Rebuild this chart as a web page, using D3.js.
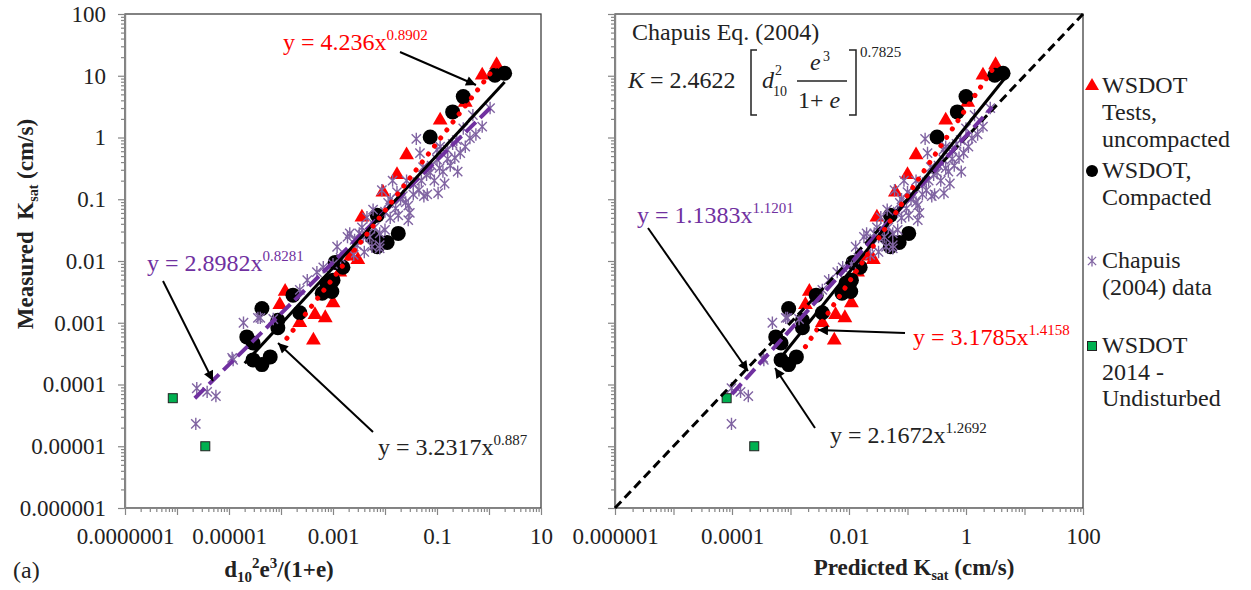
<!doctype html>
<html>
<head>
<meta charset="utf-8">
<script src="https://d3js.org/d3.v7.min.js"></script>
<style>
  body { margin: 0; background: #fff; }
  text { font-family: "Liberation Serif", "Times New Roman", serif; fill: #222; }
  .axis path, .axis line { stroke: #868686; stroke-width: 1.2; }
  .axis text { font-size: 23px; font-family: "Liberation Serif", serif; fill: #222; }
  .eq { font-size: 24px; }
  .sup { font-size: 15px; }
  .title { font-size: 23px; font-weight: bold; white-space: pre; }
  .leg { font-size: 24px; }
</style>
</head>
<body>
<svg width="1251" height="590"></svg>
<script>
// ---- data ----
// WSDOT tests, uncompacted
var uncompRatio = [1.4, 0.74, 0.35, 0.115, 0.026, 0.017, 9.1e-3, 3.6e-3, 3.0e-3, 1.35e-3, 1.2e-4, 2.3e-4, 4.5e-4, 7.1e-4, 1.0e-3, 4.2e-4, 2.2e-3, 9.5e-5];
var uncompPred  = [3.2, 1.95, 1.07, 0.45, 0.14, 0.10, 0.062, 0.030, 0.026, 0.014, 2.1e-3, 3.5e-3, 5.9e-3, 8.5e-3, 0.011, 5.6e-3, 0.021, 1.8e-3];
var uncompK     = [15, 10.2, 3.7, 1.9, 0.52, 0.25, 0.13, 0.051, 0.0105, 6.6e-3, 3.2e-3, 1.0e-3, 1.35e-3, 1.2e-3, 2.1e-3, 5.2e-4, 0.012, 1.95e-3];

// WSDOT, compacted
var compRatio = [2.0, 1.3, 0.32, 0.20, 0.074, 7.1e-3, 0.018, 0.011, 7.1e-3, 1.1e-3, 1.55e-3, 8.7e-4, 7.6e-4, 6.2e-4, 1.7e-4, 2.3e-4, 8.7e-5, 8.7e-5, 4.3e-5, 2.2e-5, 2.9e-5, 2.9e-5, 6.2e-5, 4.3e-5, 9.5e-4, 5.6e-3, 7.9e-3, 1.0e-3];
var compPred  = [4.3, 3.1, 1.0, 0.71, 0.32, 0.051, 0.105, 0.072, 0.051, 0.0117, 0.0155, 0.010, 8.9e-3, 7.6e-3, 2.75e-3, 3.5e-3, 1.6e-3, 1.6e-3, 9.3e-4, 5.6e-4, 6.9e-4, 6.9e-4, 1.26e-3, 9.3e-4, 0.0107, 0.043, 0.056, 0.011];
var compK     = [11, 10.2, 4.6, 2.6, 1.02, 0.055, 0.028, 0.020, 0.017, 9.5e-3, 7.9e-3, 4.1e-3, 4.4e-3, 3.0e-3, 2.8e-3, 1.45e-3, 1.1e-3, 8.3e-4, 1.7e-3, 5.9e-4, 4.7e-4, 2.5e-4, 2.8e-4, 2.1e-4, 3.2e-3, 0.0245, 0.020, 4.9e-3];

// Chapuis (2004) data
var chapRatio = [2.4e-6, 3.8e-6, 5.6e-6, 2.3e-6, 1.2e-5, 1.9e-5, 4.0e-5, 7.1e-5, 3.6e-5, 1.15e-5,
                 2.3e-4, 3.2e-4, 4.9e-4, 6.5e-4, 1.2e-3, 1.9e-3, 2.9e-3, 3.8e-3, 5.6e-3, 7.9e-3,
                 2.1e-3, 2.6e-3, 5.1e-3, 7.9e-3, 7.9e-3, 3.6e-3, 4.5e-3, 5.9e-3, 0.0115, 8.7e-3,
                 0.014, 0.017, 0.018, 0.028, 0.030, 0.026, 0.035, 0.054, 0.047, 0.065,
                 0.074, 0.10, 0.105, 0.115, 0.13, 0.16, 0.22, 0.24, 0.32, 0.040,
                 0.43, 0.49, 0.74, 1.05, 1.0e-3, 2.5e-3, 0.020, 0.050, 0.079, 0.16,
                 0.20, 0.0126, 0.010, 0.025,
                 1.4e-3, 3.2e-3, 6.3e-3, 0.010, 0.016, 0.022, 0.028, 0.035, 0.045, 0.056,
                 0.063, 0.089, 0.112, 0.14, 0.18, 0.28, 0.35, 0.56, 0.0126, 4.0e-3,
                 0.10, 0.25];
var chapPred  = [9.8e-5, 1.4e-4, 1.9e-4, 9.8e-5, 3.5e-4, 4.9e-4, 8.9e-4, 1.4e-3, 8.3e-4, 3.4e-4,
                 3.5e-3, 4.5e-3, 6.3e-3, 7.8e-3, 0.013, 0.018, 0.025, 0.032, 0.043, 0.056,
                 0.020, 0.023, 0.040, 0.056, 0.056, 0.030, 0.035, 0.045, 0.074, 0.060,
                 0.087, 0.10, 0.105, 0.15, 0.16, 0.14, 0.18, 0.25, 0.22, 0.29,
                 0.32, 0.41, 0.42, 0.45, 0.50, 0.59, 0.76, 0.81, 1.0, 0.20,
                 1.26, 1.4, 1.95, 2.6, 0.011, 0.023, 0.115, 0.23, 0.34, 0.58,
                 0.69, 0.079, 0.068, 0.14,
                 0.0145, 0.027, 0.047, 0.068, 0.096, 0.126, 0.15, 0.18, 0.21, 0.26,
                 0.28, 0.37, 0.45, 0.53, 0.63, 0.91, 1.1, 1.58, 0.079, 0.032,
                 0.41, 0.83];
var chapK     = [8.7e-5, 7.6e-5, 6.5e-5, 2.3e-5, 2.5e-4, 1.0e-3, 1.2e-3, 1.15e-3, 1.2e-3, 2.7e-4,
                 3.4e-3, 4.9e-3, 6.6e-3, 7.9e-3, 0.017, 0.0245, 0.018, 0.0245, 0.017, 0.018,
                 0.028, 0.022, 0.0245, 0.028, 0.016, 0.035, 0.051, 0.068, 0.087, 0.14,
                 0.20, 0.13, 0.055, 0.046, 0.060, 0.20, 0.12, 0.33, 0.56, 0.12,
                 0.27, 0.44, 0.126, 0.71, 0.28, 0.63, 0.47, 0.91, 1.4, 0.95,
                 0.98, 2.3, 1.5, 3.0, 8.9e-3, 0.0126, 0.10, 0.20, 0.35, 0.45,
                 0.79, 0.050, 0.063, 0.089,
                 0.0112, 0.028, 0.035, 0.032, 0.071, 0.112, 0.079, 0.18, 0.14, 0.112,
                 0.25, 0.20, 0.32, 0.18, 0.35, 0.56, 0.71, 1.12, 0.10, 0.014,
                 0.63, 0.28];

// WSDOT 2014 - undisturbed
var undistRatio = [8.3e-7, 3.5e-6];
var undistPred  = [8.1e-5, 2.4e-4];
var undistK     = [6.0e-5, 1.0e-5];

// trend lines (end points)
var fitLeftUncomp  = [[1.3e-4, 5.6e-4], [1.5, 16]];
var fitLeftComp    = [[2.0e-5, 2.2e-4], [2.0, 7.9]];
var fitLeftChap    = [[2.2e-6, 6.0e-5], [1.05, 3.0]];
var fitRightUncomp = [[1.8e-3, 4.1e-4], [3.2, 15]];
var fitRightComp   = [[7.4e-4, 3.0e-4], [4.6, 9.1]];
var fitRightChap   = [[1.0e-4, 7.0e-5], [2.8, 3.1]];
var oneToOne       = [[1e-6, 1e-6], [100, 100]];

// ---- chart ----
var svg = d3.select("svg");
var red = "#ff0000", purple = "#7030a0", star = "#8064a2", green = "#00b050";

var y = d3.scaleLog().domain([1e-6, 100]).range([508, 14]);
var xL = d3.scaleLog().domain([1e-7, 10]).range([125, 541]);
var xR = d3.scaleLog().domain([1e-6, 100]).range([615, 1083]);

svg.append("defs").append("marker")
   .attr("id", "arr").attr("viewBox", "0 0 10 10")
   .attr("refX", 10).attr("refY", 5)
   .attr("markerWidth", 13).attr("markerHeight", 10)
   .attr("markerUnits", "userSpaceOnUse").attr("orient", "auto")
   .append("path").attr("d", "M0,0L10,5L0,10z").attr("fill", "#000");

function decades(lo, hi) {
    var a = [];
    for (var e = lo; e <= hi; e++) a.push(+("1e" + e));
    return a;
}
function minors(lo, hi) {
    var a = [];
    for (var e = lo; e < hi; e++)
        for (var m = 2; m <= 9; m++) a.push(+(m + "e" + e));
    return a;
}
function fmt(d) {
    var e = Math.round(Math.log10(d));
    return e >= 0 ? String(d) : d.toFixed(-e);
}

function starPath(s) {
    var k = s * 0.75;
    return "M0," + (-s) + "V" + s +
           "M" + (-k) + "," + (-k) + "L" + k + "," + k +
           "M" + (-k) + "," + k + "L" + k + "," + (-k);
}

function panel(x, xlo, xhi, showY, rX, fits) {
    var g = svg.append("g");
    var x0 = x.range()[0], x1 = x.range()[1];

    g.append("rect")
     .attr("x", x0).attr("y", 14)
     .attr("width", x1 - x0).attr("height", 494)
     .attr("fill", "none").attr("stroke", "#404040").attr("stroke-width", 1.3);

    // x axis
    g.append("g").attr("class", "axis").attr("transform", "translate(0,508)")
     .call(d3.axisBottom(x).tickValues(minors(xlo, xhi)).tickSize(4).tickSizeOuter(0).tickFormat(""));
    g.append("g").attr("class", "axis").attr("transform", "translate(0,508)")
     .call(d3.axisBottom(x).tickValues(decades(xlo, xhi)).tickSize(7).tickSizeOuter(0).tickPadding(13)
       .tickFormat(function(d) { return (Math.round(Math.log10(d)) - xlo) % 2 === 0 ? fmt(d) : ""; }));

    // y axis
    g.append("g").attr("class", "axis").attr("transform", "translate(" + x0 + ",0)")
     .call(d3.axisLeft(y).tickValues(minors(-6, 2)).tickSize(4).tickSizeOuter(0).tickFormat(""));
    g.append("g").attr("class", "axis").attr("transform", "translate(" + x0 + ",0)")
     .call(d3.axisLeft(y).tickValues(decades(-6, 2)).tickSize(7).tickSizeOuter(0).tickPadding(12)
       .tickFormat(showY ? fmt : ""));

    var uX = rX ? uncompPred : uncompRatio;
    var cX = rX ? compPred : compRatio;
    var hX = rX ? chapPred : chapRatio;
    var dX = rX ? undistPred : undistRatio;

    g.append("g").selectAll("path").data(uncompK).enter().append("path")
     .attr("d", d3.symbol().type(d3.symbolTriangle).size(95))
     .attr("transform", function(d, i) { return "translate(" + x(uX[i]) + "," + y(d) + ")"; })
     .attr("fill", red);

    g.append("g").selectAll("circle").data(compK).enter().append("circle")
     .attr("cx", function(d, i) { return x(cX[i]); })
     .attr("cy", function(d) { return y(d); })
     .attr("r", 7.5).attr("fill", "#000");

    g.append("g").selectAll("path").data(chapK).enter().append("path")
     .attr("d", starPath(6.2))
     .attr("transform", function(d, i) { return "translate(" + x(hX[i]) + "," + y(d) + ")"; })
     .attr("fill", "none").attr("stroke", star).attr("stroke-width", 1.4);

    g.append("g").selectAll("rect").data(undistK).enter().append("rect")
     .attr("x", function(d, i) { return x(dX[i]) - 4.5; })
     .attr("y", function(d) { return y(d) - 4.5; })
     .attr("width", 9).attr("height", 9)
     .attr("fill", green).attr("stroke", "#222").attr("stroke-width", 1);

    var line = d3.line().x(function(d) { return x(d[0]); }).y(function(d) { return y(d[1]); });

    if (fits.one) {
        g.append("path").attr("d", line(fits.one))
         .attr("stroke", "#000").attr("stroke-width", 3).attr("stroke-dasharray", "9,5").attr("fill", "none");
    }
    g.append("path").attr("d", line(fits.chap))
     .attr("stroke", purple).attr("stroke-width", 4).attr("stroke-dasharray", "14,6").attr("fill", "none");
    g.append("path").attr("d", line(fits.comp))
     .attr("stroke", "#000").attr("stroke-width", 3).attr("fill", "none");
    g.append("path").attr("d", line(fits.uncomp))
     .attr("stroke", red).attr("stroke-width", 5).attr("stroke-linecap", "round")
     .attr("stroke-dasharray", "0.1,10").attr("fill", "none");
}

panel(xL, -7, 1, true, false, { uncomp: fitLeftUncomp, comp: fitLeftComp, chap: fitLeftChap });
panel(xR, -6, 2, false, true, { uncomp: fitRightUncomp, comp: fitRightComp, chap: fitRightChap, one: oneToOne });

// equation labels
function eq(xp, yp, base, exp, color) {
    var t = svg.append("text").attr("class", "eq").attr("x", xp).attr("y", yp).style("fill", color);
    t.append("tspan").text(base);
    t.append("tspan").attr("class", "sup").attr("dy", -10).text(exp);
}
eq(283, 50, "y = 4.236x", "0.8902", red);
eq(147, 271, "y = 2.8982x", "0.8281", purple);
eq(378, 455, "y = 3.2317x", "0.887", "#222");
eq(637, 223, "y = 1.1383x", "1.1201", purple);
eq(913, 345, "y = 3.1785x", "1.4158", red);
eq(830, 443, "y = 2.1672x", "1.2692", "#222");

// arrows
var arrows = [
    [400, 52, 476, 85],
    [163, 281, 213, 381],
    [373, 432, 278, 343],
    [648, 228, 748, 371],
    [905, 333, 818, 330],
    [815, 428, 775, 368]
];
svg.append("g").selectAll("line").data(arrows).enter().append("line")
   .attr("x1", function(d) { return d[0]; }).attr("y1", function(d) { return d[1]; })
   .attr("x2", function(d) { return d[2]; }).attr("y2", function(d) { return d[3]; })
   .attr("stroke", "#000").attr("stroke-width", 2).attr("marker-end", "url(#arr)");

// Chapuis equation box
svg.append("text").attr("class", "eq").attr("x", 632).attr("y", 40).text("Chapuis Eq. (2004)");
var f = svg.append("g");
f.append("text").attr("class", "eq").attr("x", 628).attr("y", 88).style("font-style", "italic").text("K");
f.append("text").attr("class", "eq").attr("x", 650).attr("y", 88).text("= 2.4622");
f.append("path").attr("d", "M757,50H751V115H757M849,50H856V115H849")
 .attr("fill", "none").attr("stroke", "#222").attr("stroke-width", 1.5);
f.append("text").attr("class", "eq").attr("x", 762).attr("y", 88).style("font-style", "italic").text("d");
f.append("text").attr("x", 775).attr("y", 75).style("font-size", "14px").text("2");
f.append("text").attr("x", 773).attr("y", 96).style("font-size", "14px").text("10");
f.append("text").attr("class", "eq").attr("x", 810).attr("y", 70).style("font-style", "italic").text("e");
f.append("text").attr("x", 823).attr("y", 61).style("font-size", "14px").text("3");
f.append("line").attr("x1", 797).attr("x2", 847).attr("y1", 81).attr("y2", 81)
 .attr("stroke", "#222").attr("stroke-width", 1.3);
var den = f.append("text").attr("class", "eq").attr("x", 798).attr("y", 108);
den.append("tspan").text("1+ ");
den.append("tspan").style("font-style", "italic").text("e");
f.append("text").attr("x", 860).attr("y", 57).style("font-size", "15px").text("0.7825");

// axis titles
var yt = svg.append("text").attr("class", "title")
   .attr("transform", "translate(33,224) rotate(-90)").attr("text-anchor", "middle");
yt.append("tspan").text("Measured  K");
yt.append("tspan").attr("dy", 5).style("font-size", "14px").text("sat");
yt.append("tspan").attr("dy", -5).text(" (cm/s)");

var xt = svg.append("text").attr("class", "title").attr("x", 279).attr("y", 577).attr("text-anchor", "middle");
xt.append("tspan").text("d");
xt.append("tspan").attr("dy", 5).style("font-size", "15px").text("10");
xt.append("tspan").attr("dy", -14).style("font-size", "15px").text("2");
xt.append("tspan").attr("dy", 9).text("e");
xt.append("tspan").attr("dy", -9).style("font-size", "15px").text("3");
xt.append("tspan").attr("dy", 9).text("/(1+e)");

var xt2 = svg.append("text").attr("class", "title").attr("x", 914).attr("y", 575).attr("text-anchor", "middle");
xt2.append("tspan").text("Predicted K");
xt2.append("tspan").attr("dy", 5).style("font-size", "14px").text("sat");
xt2.append("tspan").attr("dy", -5).text(" (cm/s)");

svg.append("text").attr("x", 13).attr("y", 578).style("font-size", "24px").text("(a)");

// legend
var lx = 1092, tx = 1102;
svg.append("path").attr("d", d3.symbol().type(d3.symbolTriangle).size(85))
   .attr("transform", "translate(" + lx + ",86)").attr("fill", red);
svg.append("circle").attr("cx", lx).attr("cy", 171).attr("r", 6).attr("fill", "#000");
svg.append("path").attr("d", starPath(5.5)).attr("transform", "translate(" + lx + ",261)")
   .attr("fill", "none").attr("stroke", star).attr("stroke-width", 1.3);
svg.append("rect").attr("x", lx - 4.5).attr("y", 341.5).attr("width", 9).attr("height", 9)
   .attr("fill", green).attr("stroke", "#222");

var legendLines = [
    ["WSDOT", 93], ["Tests,", 120], ["uncompacted", 147],
    ["WSDOT,", 178], ["Compacted", 205],
    ["Chapuis", 268], ["(2004) data", 295],
    ["WSDOT", 353], ["2014 -", 380], ["Undisturbed", 406]
];
svg.append("g").selectAll("text").data(legendLines).enter().append("text")
   .attr("class", "leg").attr("x", tx).attr("y", function(d) { return d[1]; })
   .text(function(d) { return d[0]; });
</script>
</body>
</html>
